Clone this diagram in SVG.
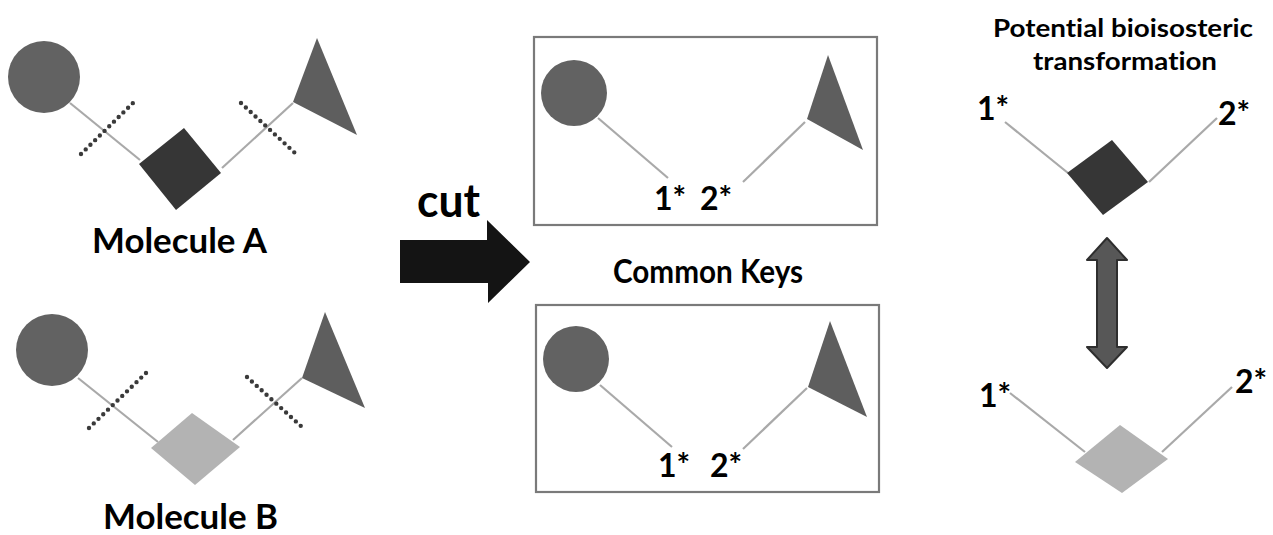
<svg xmlns="http://www.w3.org/2000/svg" width="1273" height="535" viewBox="0 0 1273 535">
  <style>
    .bond { stroke: #a9a9a9; stroke-width: 2.2; fill: none; }
    .cut { stroke: #3a3a3a; stroke-width: 4.4; stroke-linecap: round; stroke-dasharray: 0 6.6; fill: none; }
    .ring { fill: #626262; }
    .tri { fill: #5e5e5e; }
    .dark { fill: #363636; }
    .light { fill: #b3b3b3; }
    .frame { fill: none; stroke: #7a7a7a; stroke-width: 2.2; }
    .lbl { font-family: Lato, "Open Sans", "Liberation Sans", sans-serif; font-weight: 700; fill: #000; font-variant-ligatures: none; }
  </style>

  <rect width="1273" height="535" fill="#fff"/>

  <!-- Connectors: bonds and cut marks -->
  <g id="connectors">
    <line class="bond" x1="70" y1="103" x2="140" y2="160"/>
    <line class="bond" x1="222" y1="168" x2="293" y2="103"/>
    <line class="bond" x1="78" y1="378" x2="158" y2="442"/>
    <line class="bond" x1="233" y1="440" x2="302" y2="378"/>
    <line class="bond" x1="598" y1="118" x2="668" y2="178"/>
    <line class="bond" x1="743" y1="182" x2="805" y2="122"/>
    <line class="bond" x1="600" y1="385" x2="672" y2="447"/>
    <line class="bond" x1="743" y1="449" x2="807" y2="388"/>
    <line class="bond" x1="1005" y1="122" x2="1068" y2="173"/>
    <line class="bond" x1="1149" y1="182" x2="1217" y2="118"/>
    <line class="bond" x1="1010" y1="393" x2="1085" y2="452"/>
    <line class="bond" x1="1162" y1="452" x2="1232" y2="387"/>
    <line class="cut" x1="81" y1="154" x2="137" y2="99"/>
    <line class="cut" x1="241" y1="103" x2="295" y2="153"/>
    <line class="cut" x1="89" y1="428" x2="146" y2="373"/>
    <line class="cut" x1="247" y1="377" x2="302" y2="427"/>
  </g>

  <!-- Molecule A -->
  <g id="molecule-a">
    <circle class="ring" cx="44" cy="77" r="36"/>
    <polygon class="dark" points="184,128 221,173 176,210 139,164"/>
    <polygon class="tri" points="317,38 293,102 357,135"/>
    <text class="lbl" x="92" y="253" font-size="35" textLength="175" lengthAdjust="spacingAndGlyphs">Molecule A</text>
  </g>

  <!-- Molecule B -->
  <g id="molecule-b">
    <circle class="ring" cx="52" cy="350" r="36"/>
    <polygon class="light" points="192,413 240,447 195,485 151,448"/>
    <polygon class="tri" points="325,312 302,378 365,408"/>
    <text class="lbl" x="103" y="529" font-size="35" textLength="175" lengthAdjust="spacingAndGlyphs">Molecule B</text>
  </g>

  <!-- Cut step -->
  <g id="cut-arrow">
    <polygon fill="#141414" points="400,240 487,240 487,220 530,262 488,303 488,283 400,283"/>
    <text class="lbl" x="417" y="217" font-size="45" textLength="63" lengthAdjust="spacingAndGlyphs">cut</text>
  </g>

  <!-- Common keys, upper -->
  <g id="key-a">
    <rect class="frame" x="534" y="37" width="343" height="188"/>
    <circle class="ring" cx="574" cy="93" r="33"/>
    <polygon class="tri" points="828,55 807,119 863,150"/>
    <text class="lbl" x="654" y="210" font-size="32">1*</text>
    <text class="lbl" x="700" y="210" font-size="32">2*</text>
  </g>

  <text id="common-keys" class="lbl" x="613" y="283" font-size="33" textLength="190" lengthAdjust="spacingAndGlyphs">Common Keys</text>

  <!-- Common keys, lower -->
  <g id="key-b">
    <rect class="frame" x="536" y="305" width="343" height="187"/>
    <circle class="ring" cx="576" cy="359" r="33"/>
    <polygon class="tri" points="830,321 808,387 867,417"/>
    <text class="lbl" x="658" y="477" font-size="32">1*</text>
    <text class="lbl" x="710" y="477" font-size="32">2*</text>
  </g>

  <!-- Bioisosteric pair -->
  <g id="transformation">
    <text class="lbl" x="993" y="37" font-size="25" textLength="260" lengthAdjust="spacingAndGlyphs">Potential bioisosteric</text>
    <text class="lbl" x="1033" y="70" font-size="25" textLength="184" lengthAdjust="spacingAndGlyphs">transformation</text>
  </g>

  <g id="fragment-dark">
    <polygon class="dark" points="1112,140 1148,182 1103,215 1067,173"/>
    <text class="lbl" x="977" y="120" font-size="32">1*</text>
    <text class="lbl" x="1218" y="125" font-size="32">2*</text>
  </g>

  <g id="swap-arrow">
    <polygon fill="#575757" stroke="#2e2e2e" stroke-width="2" stroke-linejoin="round" points="1107,238 1127,260 1117,260 1117,347 1127,347 1107,368 1087,347 1097,347 1097,260 1087,260"/>
  </g>

  <g id="fragment-light">
    <polygon class="light" points="1120,425 1168,459 1122,493 1075,462"/>
    <text class="lbl" x="979" y="407" font-size="32">1*</text>
    <text class="lbl" x="1235" y="393" font-size="32">2*</text>
  </g>
</svg>
